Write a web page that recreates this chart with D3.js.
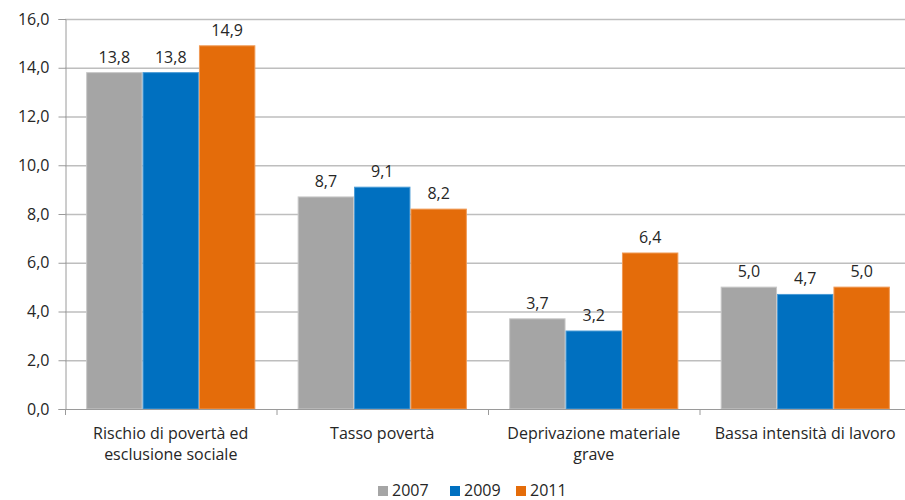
<!DOCTYPE html>
<html><head><meta charset="utf-8">
<script src="https://cdn.jsdelivr.net/npm/d3@7"></script>
<style>body{margin:0;background:#fff}text{font-family:"Open Sans","Noto Sans",sans-serif;fill:#262626}</style>
</head><body><svg id="c" width="905" height="500"></svg>
<script>
const categories = [["Rischio di povertà ed","esclusione sociale"],["Tasso povertà"],["Deprivazione materiale","grave"],["Bassa intensità di lavoro"]];
const years = ["2007","2009","2011"];
const v2007 = [13.8, 8.7, 3.7, 5.0];
const v2009 = [13.8, 9.1, 3.2, 4.7];
const v2011 = [14.9, 8.2, 6.4, 5.0];
const yTicks = [0,2,4,6,8,10,12,14,16];
const colors = ["#A5A5A5","#0070C0","#E46C0A"];
const strokes = ["#C8C8C8","#4A9BD6","#F09A55"];
const series = [v2007, v2009, v2011];

const svg = d3.select("#c");
const mLeft = 65, mRight = 911, mTop = 19, mBottom = 409;
const x0 = d3.scaleBand().domain(d3.range(categories.length)).range([mLeft,mRight]).paddingInner(0).paddingOuter(0);
const bw = x0.bandwidth()/3.75;
const x1 = d3.scaleBand().domain(d3.range(3)).range([0, bw*3]);
const y = d3.scaleLinear().domain([0,16]).range([mBottom, mTop]);
const fmt = d => d3.format(".1f")(d).replace(".", ",");
const fs = "16px";

// gridlines
svg.append("g").selectAll("line").data(yTicks.filter(t=>t>0)).join("line")
  .attr("x1", mLeft).attr("x2", mRight).attr("y1", d=>y(d)+0.5).attr("y2", d=>y(d)+0.5)
  .attr("stroke","#BEBEBE").attr("stroke-width",1.3);

// y axis
const ya = svg.append("g").attr("transform",`translate(${mLeft+0.5},0)`)
  .call(d3.axisLeft(y).tickValues(yTicks).tickFormat(fmt).tickSize(7).tickPadding(9));
ya.select(".domain").attr("stroke","#9A9A9A");
ya.selectAll(".tick line").attr("stroke","#9A9A9A");
ya.selectAll(".tick text").style("font-size",fs).attr("fill","#262626");

// bars
const g = svg.append("g");
categories.forEach((c,i)=>{
  const gx = x0(i) + (x0.bandwidth()-bw*3)/2;
  series.forEach((s,j)=>{
    g.append("rect").attr("x", gx + x1(j)+0.5).attr("y", y(s[i])).attr("width", bw-1).attr("height", y(0)-y(s[i]))
      .attr("fill", colors[j]).attr("stroke", strokes[j]).attr("stroke-width",1);
    g.append("text").attr("x", gx + x1(j) + bw/2).attr("y", y(s[i]) - 10).attr("text-anchor","middle")
      .style("font-size",fs).text(fmt(s[i]));
  });
});

// x axis
const xa = svg.append("g");
xa.append("line").attr("x1",mLeft).attr("x2",mRight).attr("y1",mBottom+0.5).attr("y2",mBottom+0.5).attr("stroke","#9A9A9A");
xa.selectAll("line.t").data(d3.range(categories.length+1)).join("line").attr("class","t")
  .attr("x1", d=>mLeft + d*x0.bandwidth()+0.5).attr("x2", d=>mLeft + d*x0.bandwidth()+0.5)
  .attr("y1", mBottom).attr("y2", mBottom+6).attr("stroke","#9A9A9A");
categories.forEach((c,i)=>{
  const t = xa.append("text").attr("text-anchor","middle").style("font-size",fs);
  c.forEach((line,k)=>t.append("tspan").attr("x", x0(i)+x0.bandwidth()/2).attr("y", 439 + k*21).text(line));
});

// legend
const lg = svg.append("g");
const lx = [378, 450, 516];
years.forEach((yr,j)=>{
  lg.append("rect").attr("x", lx[j]).attr("y", 486).attr("width",10).attr("height",10).attr("fill",colors[j]);
  lg.append("text").attr("x", lx[j]+14).attr("y", 496).style("font-size",fs).text(yr);
});
</script></body></html>
